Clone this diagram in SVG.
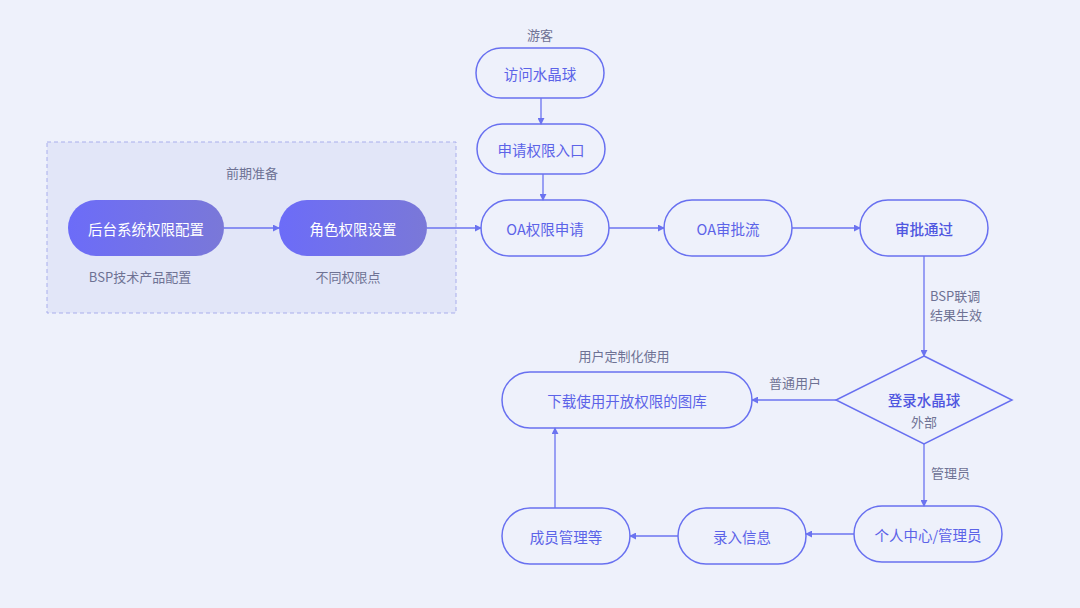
<svg xmlns="http://www.w3.org/2000/svg" width="1080" height="608" viewBox="0 0 1080 608">
<defs>
<linearGradient id="g" x1="0" y1="0" x2="1" y2="0">
<stop offset="0" stop-color="#6C6CF8"/>
<stop offset="1" stop-color="#7A78D8"/>
</linearGradient>
<marker id="a" viewBox="0 0 8 8" refX="7" refY="4" markerWidth="7" markerHeight="7" markerUnits="userSpaceOnUse" orient="auto">
<path d="M0,0 L8,4 L0,8 Z" fill="#6B73F0"/>
</marker>
<style>
.n{fill:none;stroke:#6870F0;stroke-width:1.5}
.f{fill:url(#g)}
.t{font-family:"Noto Sans CJK SC","Noto Sans",sans-serif;font-size:14.5px;fill:#5C63E8;text-anchor:middle;dominant-baseline:central}
.w{fill:#FFFFFF}
.l{font-family:"Noto Sans CJK SC","Noto Sans",sans-serif;font-size:13px;fill:#6E7294;text-anchor:middle;dominant-baseline:central}
.c{fill:none;stroke:#6B73F0;stroke-width:1.3;marker-end:url(#a)}
</style>
</defs>
<rect width="1080" height="608" fill="#EEF1FB"/>
<g id="prep">
<rect x="47" y="142" width="409" height="171" fill="#E2E6F8" stroke="#A9AEEC" stroke-width="1" stroke-dasharray="4 3"/>
<text class="l" x="252" y="172">前期准备</text>
</g>
<g id="n-backend">
<rect class="f" x="68" y="200" width="156" height="56" rx="28"/>
<text class="t w" x="146" y="228">后台系统权限配置</text>
<text class="l" x="140" y="276">BSP技术产品配置</text>
</g>
<g id="n-role">
<rect class="f" x="279" y="200" width="148" height="56" rx="28"/>
<text class="t w" x="353" y="228">角色权限设置</text>
<text class="l" x="348" y="276">不同权限点</text>
</g>
<g id="n-visit">
<text class="l" x="540" y="34">游客</text>
<rect class="n" x="476" y="48" width="128" height="50" rx="25"/>
<text class="t" x="540" y="73">访问水晶球</text>
</g>
<g id="n-entry">
<rect class="n" x="477" y="124" width="128" height="50" rx="25"/>
<text class="t" x="541" y="149">申请权限入口</text>
</g>
<g id="n-oa">
<rect class="n" x="481" y="200" width="128" height="56" rx="28"/>
<text class="t" x="545" y="228">OA权限申请</text>
</g>
<g id="n-flow">
<rect class="n" x="664" y="200" width="128" height="56" rx="28"/>
<text class="t" x="728" y="228">OA审批流</text>
</g>
<g id="n-pass">
<rect class="n" x="860" y="200" width="128" height="56" rx="28"/>
<text class="t" x="924" y="228" style="fill:#4F56E0;font-weight:500">审批通过</text>
</g>
<g id="n-login">
<polygon class="n" points="924,356 1012,400 924,444 836,400"/>
<text class="t" x="924" y="399" style="fill:#4F56E0;font-weight:500">登录水晶球</text>
<text class="l" x="924" y="421">外部</text>
</g>
<g id="n-download">
<text class="l" x="624" y="355">用户定制化使用</text>
<rect class="n" x="502" y="372" width="250" height="56" rx="28"/>
<text class="t" x="627" y="400">下载使用开放权限的图库</text>
</g>
<g id="n-member">
<rect class="n" x="502" y="508" width="128" height="56" rx="28"/>
<text class="t" x="566" y="536">成员管理等</text>
</g>
<g id="n-input">
<rect class="n" x="678" y="508" width="128" height="56" rx="28"/>
<text class="t" x="742" y="536">录入信息</text>
</g>
<g id="n-center">
<rect class="n" x="854" y="506" width="148" height="56" rx="28"/>
<text class="t" x="928" y="534">个人中心/管理员</text>
</g>
<g id="connectors">
<path class="c" d="M224,228 H279"/>
<path class="c" d="M427,228 H481"/>
<path class="c" d="M541,98 V124"/>
<path class="c" d="M543,174 V200"/>
<path class="c" d="M609,228 H664"/>
<path class="c" d="M792,228 H860"/>
<path class="c" d="M924,256 V356"/>
<path class="c" d="M836,400 H752"/>
<path class="c" d="M924,444 V506"/>
<path class="c" d="M854,534 H806"/>
<path class="c" d="M678,536 H630"/>
<path class="c" d="M555,508 V428"/>
<text class="l" x="930" y="295" style="text-anchor:start">BSP联调</text>
<text class="l" x="930" y="314" style="text-anchor:start">结果生效</text>
<text class="l" x="795" y="382">普通用户</text>
<text class="l" x="931" y="472" style="text-anchor:start">管理员</text>
</g>
</svg>
